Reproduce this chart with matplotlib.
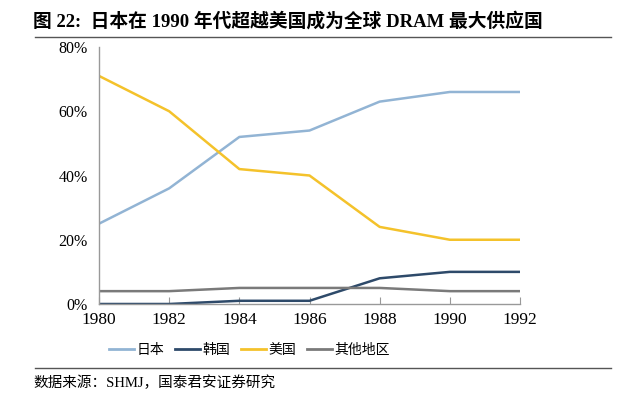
import matplotlib.pyplot as plt
from matplotlib.lines import Line2D

plt.rcParams['font.family'] = ['Liberation Serif', 'Noto Sans CJK SC']

# ── Data ──────────────────────────────────────────────
years = [1980, 1982, 1984, 1986, 1988, 1990, 1992]
japan = [25, 36, 52, 54, 63, 66, 66]
korea = [0, 0, 1, 1, 8, 10, 10]
usa = [71, 60, 42, 40, 24, 20, 20]
others = [4, 4, 5, 5, 5, 4, 4]
names = ['日本', '韩国', '美国', '其他地区']

c_jp = '#92b4d4'
c_kr = '#2e4a6a'
c_us = '#f4c22b'
c_ot = '#7a7a7a'
axis_c = '#999999'

fig = plt.figure(figsize=(6.4, 4.0), dpi=100)
ax = fig.add_axes([0.1547, 0.24, 0.6578, 0.6425])

ax.plot(years, japan, color=c_jp, lw=1.8, label=names[0])
ax.plot(years, korea, color=c_kr, lw=1.8, label=names[1])
ax.plot(years, usa, color=c_us, lw=1.8, label=names[2])
ax.plot(years, others, color=c_ot, lw=1.8, label=names[3])

ax.set_xlim(1980, 1992)
ax.set_ylim(0, 80)
ax.set_xticks(years)
ax.set_yticks([0, 20, 40, 60, 80])
ax.set_yticklabels([f'{v}%' for v in [0, 20, 40, 60, 80]])
ax.tick_params(axis='x', direction='in', length=5, color=axis_c, labelsize=12.5, pad=6)
ax.tick_params(axis='y', direction='out', length=0, labelsize=11.5, pad=8)
for s in ['top', 'right']:
    ax.spines[s].set_visible(False)
for s in ['left', 'bottom']:
    ax.spines[s].set_color(axis_c)
    ax.spines[s].set_linewidth(1)

# legend
handles = [Line2D([0], [0], color=c, lw=2) for c in [c_jp, c_kr, c_us, c_ot]]
fig.legend(handles, names, loc='center', bbox_to_anchor=(0.39, 0.125), ncol=4,
           frameon=False, handlelength=1.8, handletextpad=0.15,
           columnspacing=0.8, prop={'family': 'Noto Sans CJK SC', 'size': 10})

# title and source
fig.text(0.052, 0.948, '图 22:  日本在 1990 年代超越美国成为全球 DRAM 最大供应国',
         fontsize=13.5, fontweight='bold', va='center', ha='left')
fig.add_artist(Line2D([0.055, 0.955], [0.907, 0.907], color='#555555', lw=1))
fig.add_artist(Line2D([0.055, 0.955], [0.08, 0.08], color='#555555', lw=1))
fig.text(0.052, 0.042, '数据来源：SHMJ，国泰君安证券研究', fontsize=10.5,
         va='center', ha='left')

plt.savefig('out.png', dpi=100)
plt.close()
